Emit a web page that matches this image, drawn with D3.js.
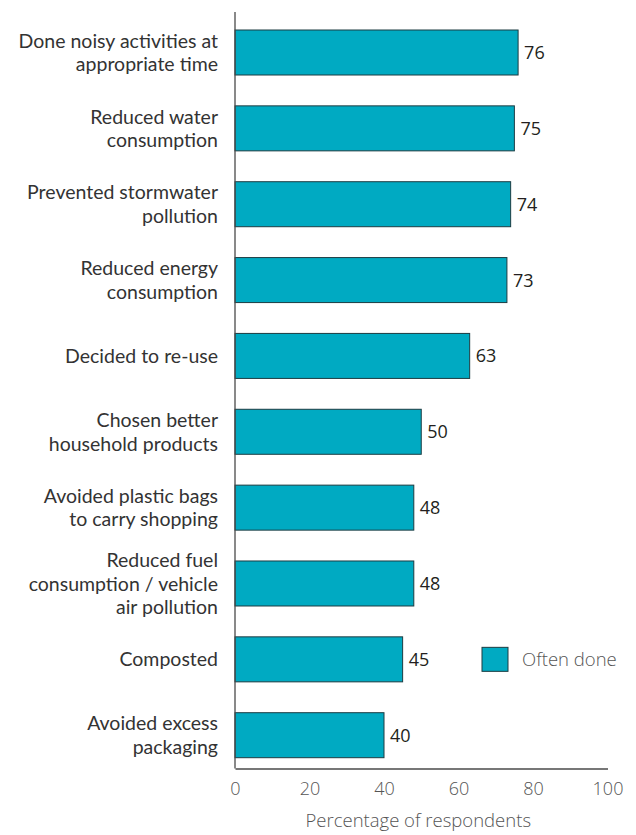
<!DOCTYPE html>
<html>
<head>
<meta charset="utf-8">
<script src="https://cdn.jsdelivr.net/npm/d3@7/dist/d3.min.js"></script>
<style>
  html, body { margin: 0; padding: 0; background: #fff; }
  svg { display: block; }
</style>
</head>
<body>
<script>
// Actions taken by respondents (label lines split with \n)
const categories = [
  "Done noisy activities at\nappropriate time",
  "Reduced water\nconsumption",
  "Prevented stormwater\npollution",
  "Reduced energy\nconsumption",
  "Decided to re-use",
  "Chosen better\nhousehold products",
  "Avoided plastic bags\nto carry shopping",
  "Reduced fuel\nconsumption / vehicle\nair pollution",
  "Composted",
  "Avoided excess\npackaging"
];
const oftenDone = [76, 75, 74, 73, 63, 50, 48, 48, 45, 40];
const xTicks = [0, 20, 40, 60, 80, 100];
const seriesName = "Often done";
const axisTitle = "Percentage of respondents";

const W = 636, H = 835;
const plotLeft = 235, plotRight = 607.5, plotTop = 12, axisY = 768.5;
const barFill = "#00aac2", barStroke = "#1c3c42";
const labelFont = "Lato, 'Open Sans', sans-serif";
const font = "'Open Sans', sans-serif";

const svg = d3.select("body").append("svg")
  .attr("width", W).attr("height", H);

const x = d3.scaleLinear().domain([0, 100]).range([plotLeft, plotRight]);
const bandStep = 75.85, gap = bandStep - 45;
const y = d3.scaleBand()
  .domain(categories)
  .range([30 - gap / 2, 757.7 + gap / 2])
  .paddingInner(gap / bandStep)
  .paddingOuter(gap / bandStep / 2);

// bars
svg.append("g").selectAll("rect")
  .data(categories)
  .join("rect")
  .attr("x", x(0))
  .attr("y", d => y(d))
  .attr("width", (d, i) => x(oftenDone[i]) - x(0))
  .attr("height", y.bandwidth())
  .attr("fill", barFill)
  .attr("stroke", barStroke)
  .attr("stroke-width", 1);

// value labels
svg.append("g").selectAll("text")
  .data(categories)
  .join("text")
  .attr("x", (d, i) => x(oftenDone[i]) + 6)
  .attr("y", d => y(d) + y.bandwidth() / 2)
  .attr("dy", "0.36em")
  .attr("font-family", font)
  .attr("font-size", 18)
  .attr("fill", "#231f20")
  .text((d, i) => oftenDone[i]);

// category labels (multi-line, right aligned)
const lineH = 23.6;
const cat = svg.append("g").selectAll("text")
  .data(categories)
  .join("text")
  .attr("text-anchor", "end")
  .attr("font-family", labelFont)
  .attr("font-size", 19.5)
  .attr("fill", "#333");
cat.each(function (d) {
  const lines = d.split("\n");
  const cy = y(d) + y.bandwidth() / 2;
  const t = d3.select(this);
  lines.forEach((ln, k) => {
    t.append("tspan")
      .attr("x", 218)
      .attr("y", cy + (k - (lines.length - 1) / 2) * lineH)
      .attr("dy", "0.36em")
      .text(ln);
  });
});

// vertical axis line
svg.append("line")
  .attr("x1", plotLeft).attr("x2", plotLeft)
  .attr("y1", plotTop).attr("y2", axisY)
  .attr("stroke", "#4a4a4a").attr("stroke-width", 1.3);

// bottom axis
const xAxis = svg.append("g")
  .attr("transform", `translate(0,${axisY})`)
  .call(d3.axisBottom(x).tickValues(xTicks).tickSize(0).tickPadding(14).tickSizeOuter(0));
xAxis.select(".domain").attr("stroke", "#4a4a4a").attr("stroke-width", 1.3);
xAxis.selectAll("text")
  .attr("font-family", font)
  .attr("font-weight", 300)
  .attr("font-size", 18)
  .attr("fill", "#555");

svg.append("text")
  .attr("x", (plotLeft + plotRight) / 2 - 3)
  .attr("y", 826.5)
  .attr("text-anchor", "middle")
  .attr("font-family", font)
  .attr("font-weight", 300)
  .attr("font-size", 18.5)
  .attr("fill", "#555")
  .text(axisTitle);

// legend
const legendY = y(categories[8]) + y.bandwidth() / 2;
svg.append("rect")
  .attr("x", 482).attr("y", legendY - 12)
  .attr("width", 26).attr("height", 24)
  .attr("fill", barFill).attr("stroke", barStroke).attr("stroke-width", 1);
svg.append("text")
  .attr("x", 522).attr("y", legendY)
  .attr("dy", "0.36em")
  .attr("font-family", font)
  .attr("font-weight", 300)
  .attr("font-size", 18.5)
  .attr("fill", "#555")
  .text(seriesName);
</script>
</body>
</html>
